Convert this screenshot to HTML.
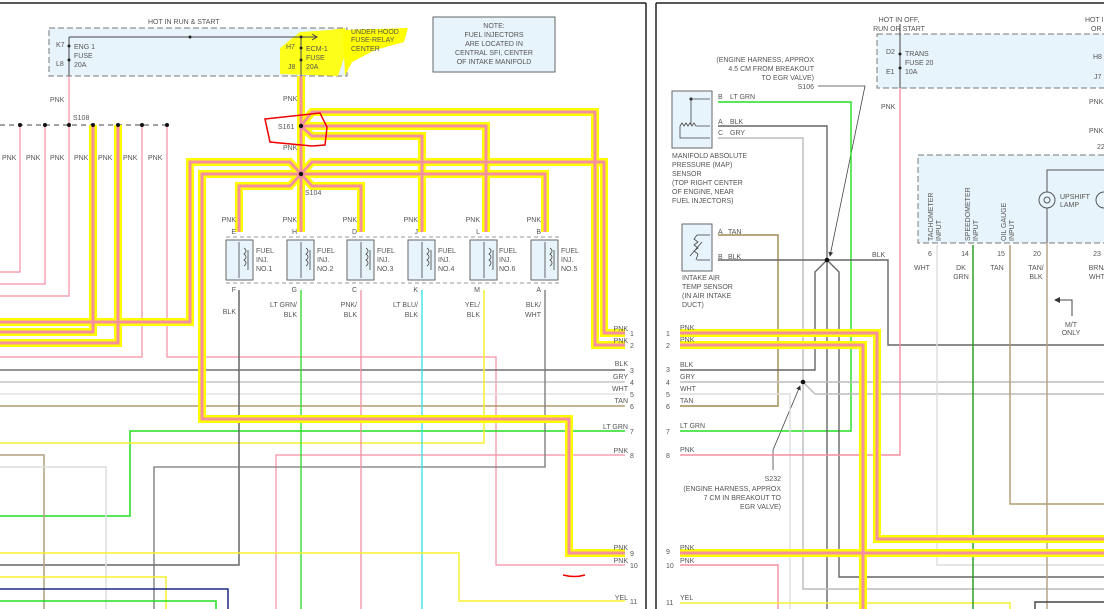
<!DOCTYPE html>
<html><head><meta charset="utf-8"><style>
html,body{margin:0;padding:0;background:#fff;}
svg{display:block;}
text{font-family:"Liberation Sans",sans-serif;font-size:7px;fill:#555;}
</style></head><body>
<svg width="1104" height="609" viewBox="0 0 1104 609" xmlns="http://www.w3.org/2000/svg">
<defs>
<marker id="ar" markerWidth="6" markerHeight="6" refX="5" refY="3" orient="auto"><path d="M0,0 L6,3 L0,6 z" fill="#333"/></marker>
</defs>
<line x1="0" y1="3" x2="646" y2="3" stroke="#222" stroke-width="1.5"/>
<line x1="646" y1="3" x2="646" y2="609" stroke="#222" stroke-width="1.5"/>
<line x1="656" y1="3" x2="1104" y2="3" stroke="#222" stroke-width="1.5"/>
<line x1="656" y1="3" x2="656" y2="609" stroke="#222" stroke-width="1.5"/>

<!-- fuse box -->
<rect x="49" y="28" width="298" height="48" fill="#e8f4fc" stroke="#777" stroke-dasharray="6,3"/>
<path d="M280,48 L290,40 L300,32 L330,30 L345,28 L345,55 L338,76 L280,74 z" fill="#ffff00" opacity="0.9"/>
<path d="M343,30 L408,28 L404,42 L375,50 L352,62 L345,76 z" fill="#ffff00"/>
<text x="148" y="24">HOT IN RUN &amp; START</text>
<line x1="69" y1="37" x2="316" y2="37" stroke="#444"/>
<path d="M312,34 L317,37 L312,40" fill="none" stroke="#444"/>
<circle cx="190" cy="37" r="1.5" fill="#222"/>
<circle cx="301" cy="37" r="1.5" fill="#222"/>
<line x1="69" y1="37" x2="69" y2="76" stroke="#444"/>
<circle cx="69" cy="46" r="1.5" fill="#222"/><circle cx="69" cy="60" r="1.5" fill="#222"/>
<text x="56" y="47">K7</text><text x="56" y="66">L8</text>
<text x="74" y="49">ENG 1</text><text x="74" y="58">FUSE</text><text x="74" y="67">20A</text>
<line x1="301" y1="37" x2="301" y2="76" stroke="#444"/>
<circle cx="301" cy="48" r="1.5" fill="#222"/><circle cx="301" cy="60" r="1.5" fill="#222"/>
<text x="286" y="49">H7</text><text x="288" y="69">J8</text>
<text x="306" y="51">ECM-1</text><text x="306" y="60">FUSE</text><text x="306" y="69">20A</text>
<text x="351" y="34">UNDER HOOD</text><text x="351" y="42">FUSE-RELAY</text><text x="351" y="51">CENTER</text>
<rect x="433" y="17" width="122" height="55" fill="#e8f4fc" stroke="#666"/>
<text x="494" y="28" text-anchor="middle">NOTE:</text>
<text x="494" y="37" text-anchor="middle">FUEL INJECTORS</text>
<text x="494" y="46" text-anchor="middle">ARE LOCATED IN</text>
<text x="494" y="55" text-anchor="middle">CENTRAL SFI, CENTER</text>
<text x="494" y="64" text-anchor="middle">OF INTAKE MANIFOLD</text>

<line x1="69" y1="76" x2="69" y2="125" stroke="#f58ea0" stroke-width="1.2"/>
<text x="50" y="102">PNK</text><text x="73" y="120">S108</text>
<line x1="0" y1="125" x2="167" y2="125" stroke="#444" stroke-dasharray="5,4"/>
<g fill="none" stroke="#f58ea0" stroke-width="1.2">
<polyline points="20,125 20,272 0,272"/>
<polyline points="45,125 45,284 0,284"/>
<polyline points="69,125 69,296 0,296"/>
<polyline points="142,125 142,357 0,357"/>
<polyline points="167,125 167,357 496,357 496,565 625,565"/>
<polyline points="276,609 276,455 625,455"/>
</g>
<g font-size="7"><text x="2" y="160">PNK</text><text x="26" y="160">PNK</text><text x="50" y="160">PNK</text><text x="74" y="160">PNK</text><text x="98" y="160">PNK</text><text x="123" y="160">PNK</text><text x="148" y="160">PNK</text></g>

<g fill="none" stroke-width="1.3">
<polyline points="0,370 625,370" stroke="#555"/>
<polyline points="0,382 625,382" stroke="#bbb"/>
<polyline points="0,394 625,394" stroke="#ddd"/>
<polyline points="0,406 625,406" stroke="#a08850"/>
<polyline points="0,516 130,516 130,431 625,431" stroke="#22dd22" stroke-width="1.5"/>
<polyline points="0,443 484,443 484,290" stroke="#f5f030" stroke-width="1.5"/>
<polyline points="239,290 239,565 0,565" stroke="#666" stroke-width="1.5"/>
<polyline points="545,290 545,467 154,467 154,609" stroke="#777"/>
<polyline points="301,290 301,609" stroke="#22dd22"/>
<polyline points="361,290 361,609" stroke="#f58ea0"/>
<polyline points="422,290 422,609" stroke="#30e0e8"/>
<polyline points="0,455 44,455 44,609" stroke="#b0a080" stroke-width="1.5"/>
<polyline points="0,467 106,467 106,609" stroke="#ddd" stroke-width="1.5"/>
<polyline points="0,553 459,553 459,601 625,601" stroke="#f5f030" stroke-width="1.5"/>
<polyline points="0,577 166,577 166,609" stroke="#f5f030" stroke-width="1.5"/>
<polyline points="0,589 228,589 228,609" stroke="#1a2a80" stroke-width="1.5"/>
<polyline points="0,601 216,601 216,609" stroke="#22dd22" stroke-width="1.5"/>
</g>

<g fill="none" stroke-linejoin="miter">
<g stroke="#ffff00" stroke-width="8">
<polyline points="301,76 301,232"/>
<polyline points="93,125 93,332 0,332"/>
<polyline points="118,125 118,343 0,343"/>
<polyline points="301,126 312,112 595,112 595,345 625,345"/>
<polyline points="301,126 486,126 486,232"/>
<polyline points="301,126 312,136 422,136 422,232"/>
<polyline points="301,174 290,162 190,162 190,322 0,322"/>
<polyline points="301,174 312,162 604,162 604,333 625,333"/>
<polyline points="301,174 202,174 202,419 569,419 569,553 625,553"/>
<polyline points="301,174 545,174 545,232"/>
<polyline points="301,174 290,186 239,186 239,232"/>
<polyline points="301,174 312,186 361,186 361,232"/>
</g>
<g stroke="#f58ea0" stroke-width="3">
<polyline points="301,76 301,232"/>
<polyline points="93,125 93,332 0,332"/>
<polyline points="118,125 118,343 0,343"/>
<polyline points="301,126 312,112 595,112 595,345 625,345"/>
<polyline points="301,126 486,126 486,232"/>
<polyline points="301,126 312,136 422,136 422,232"/>
<polyline points="301,174 290,162 190,162 190,322 0,322"/>
<polyline points="301,174 312,162 604,162 604,333 625,333"/>
<polyline points="301,174 202,174 202,419 569,419 569,553 625,553"/>
<polyline points="301,174 545,174 545,232"/>
<polyline points="301,174 290,186 239,186 239,232"/>
<polyline points="301,174 312,186 361,186 361,232"/>
</g>
</g>
<g fill="#111"><circle cx="20" cy="125" r="2"/><circle cx="45" cy="125" r="2"/><circle cx="69" cy="125" r="2"/><circle cx="93" cy="125" r="2"/><circle cx="118" cy="125" r="2"/><circle cx="142" cy="125" r="2"/><circle cx="167" cy="125" r="2"/>
<circle cx="301" cy="126" r="2.2"/><circle cx="301" cy="174" r="2.2"/></g>
<text x="278" y="129">S161</text><text x="283" y="101">PNK</text><text x="283" y="150">PNK</text><text x="305" y="195">S104</text>
<path d="M265,119 L320,113 L327,127 L325,145 L312,146 L270,142 z" fill="none" stroke="#e00" stroke-width="1.5"/>
<path d="M563,575 Q575,578 585,575" fill="none" stroke="#e00" stroke-width="1.5"/>

<line x1="226" y1="237" x2="560" y2="237" stroke="#999" stroke-dasharray="4,3"/>
<line x1="226" y1="283" x2="560" y2="283" stroke="#999" stroke-dasharray="4,3"/>
<g>
<rect x="226" y="240" width="27" height="40" fill="#e8f4fc" stroke="#666"/>
<rect x="287" y="240" width="27" height="40" fill="#e8f4fc" stroke="#666"/>
<rect x="347" y="240" width="27" height="40" fill="#e8f4fc" stroke="#666"/>
<rect x="408" y="240" width="27" height="40" fill="#e8f4fc" stroke="#666"/>
<rect x="470" y="240" width="27" height="40" fill="#e8f4fc" stroke="#666"/>
<rect x="531" y="240" width="27" height="40" fill="#e8f4fc" stroke="#666"/>
</g>
<g stroke="#444" fill="none" stroke-width="0.8">
<path d="M239,242 V278 M244,248 q4,3 0,6 q4,3 0,6 q4,3 0,6 M248,250 V270"/>
<path d="M301,242 V278 M306,248 q4,3 0,6 q4,3 0,6 q4,3 0,6 M310,250 V270"/>
<path d="M361,242 V278 M366,248 q4,3 0,6 q4,3 0,6 q4,3 0,6 M370,250 V270"/>
<path d="M422,242 V278 M427,248 q4,3 0,6 q4,3 0,6 q4,3 0,6 M431,250 V270"/>
<path d="M484,242 V278 M489,248 q4,3 0,6 q4,3 0,6 q4,3 0,6 M493,250 V270"/>
<path d="M545,242 V278 M550,248 q4,3 0,6 q4,3 0,6 q4,3 0,6 M554,250 V270"/>
</g>
<g>
<text x="256" y="253">FUEL</text><text x="256" y="262">INJ.</text><text x="256" y="271">NO.1</text>
<text x="317" y="253">FUEL</text><text x="317" y="262">INJ.</text><text x="317" y="271">NO.2</text>
<text x="377" y="253">FUEL</text><text x="377" y="262">INJ.</text><text x="377" y="271">NO.3</text>
<text x="438" y="253">FUEL</text><text x="438" y="262">INJ.</text><text x="438" y="271">NO.4</text>
<text x="499" y="253">FUEL</text><text x="499" y="262">INJ.</text><text x="499" y="271">NO.6</text>
<text x="561" y="253">FUEL</text><text x="561" y="262">INJ.</text><text x="561" y="271">NO.5</text>
</g>
<g text-anchor="end">
<text x="236" y="222">PNK</text><text x="297" y="222">PNK</text><text x="357" y="222">PNK</text><text x="418" y="222">PNK</text><text x="480" y="222">PNK</text><text x="541" y="222">PNK</text>
<text x="236" y="234">E</text><text x="297" y="234">H</text><text x="357" y="234">D</text><text x="418" y="234">J</text><text x="480" y="234">L</text><text x="541" y="234">B</text>
<text x="236" y="292">F</text><text x="297" y="292">G</text><text x="357" y="292">C</text><text x="418" y="292">K</text><text x="480" y="292">M</text><text x="541" y="292">A</text>
<text x="236" y="314">BLK</text>
<text x="297" y="307">LT GRN/</text><text x="297" y="317">BLK</text>
<text x="357" y="307">PNK/</text><text x="357" y="317">BLK</text>
<text x="418" y="307">LT BLU/</text><text x="418" y="317">BLK</text>
<text x="480" y="307">YEL/</text><text x="480" y="317">BLK</text>
<text x="541" y="307">BLK/</text><text x="541" y="317">WHT</text>
<text x="628" y="331">PNK</text><text x="628" y="343">PNK</text><text x="628" y="366">BLK</text><text x="628" y="379">GRY</text>
<text x="628" y="391">WHT</text><text x="628" y="403">TAN</text><text x="628" y="429">LT GRN</text><text x="628" y="453">PNK</text>
<text x="628" y="550">PNK</text><text x="628" y="563">PNK</text><text x="628" y="600">YEL</text>
</g>
<g font-size="6.5"><text x="630" y="336">1</text><text x="630" y="348">2</text><text x="630" y="373">3</text><text x="630" y="385">4</text><text x="630" y="397">5</text><text x="630" y="409">6</text><text x="630" y="434">7</text><text x="630" y="458">8</text><text x="630" y="556">9</text><text x="630" y="568">10</text><text x="630" y="604">11</text></g>

<!-- RIGHT PANEL -->
<rect x="877" y="34" width="240" height="54" fill="#e8f4fc" stroke="#777" stroke-dasharray="6,3"/>
<text x="899" y="22" text-anchor="middle">HOT IN OFF,</text><text x="899" y="31" text-anchor="middle">RUN OR START</text>
<text x="1085" y="22">HOT I</text><text x="1091" y="31">OR S</text>
<line x1="900" y1="24" x2="900" y2="88" stroke="#444"/>
<circle cx="900" cy="54" r="1.5" fill="#222"/><circle cx="900" cy="68" r="1.5" fill="#222"/>
<text x="886" y="54">D2</text><text x="886" y="74">E1</text>
<text x="905" y="56">TRANS</text><text x="905" y="65">FUSE 20</text><text x="905" y="74">10A</text>
<text x="1093" y="59">H8</text><text x="1094" y="79">J7</text>
<text x="1089" y="104">PNK</text><text x="1089" y="133">PNK</text><text x="1097" y="149">22</text>
<text x="881" y="109">PNK</text>

<rect x="918" y="155" width="200" height="88" fill="#e8f4fc" stroke="#777" stroke-dasharray="6,3"/>
<g font-size="6.5">
<text transform="translate(933,241) rotate(-90)">TACHOMETER</text><text transform="translate(941,241) rotate(-90)">INPUT</text>
<text transform="translate(970,241) rotate(-90)">SPEEDOMETER</text><text transform="translate(978,241) rotate(-90)">INPUT</text>
<text transform="translate(1006,241) rotate(-90)">OIL GAUGE</text><text transform="translate(1014,241) rotate(-90)">INPUT</text>
</g>
<polyline points="1104,170 1047,170 1047,243" fill="none" stroke="#555"/>
<circle cx="1047" cy="200" r="8" fill="#e8f4fc" stroke="#555"/>
<circle cx="1047" cy="200" r="3" fill="none" stroke="#555"/>
<text x="1060" y="199">UPSHIFT</text><text x="1060" y="207">LAMP</text>
<circle cx="1104" cy="200" r="8" fill="#e8f4fc" stroke="#555"/>
<g text-anchor="middle">
<text x="930" y="256">6</text><text x="965" y="256">14</text><text x="1001" y="256">15</text><text x="1037" y="256">20</text><text x="1097" y="256">23</text>
<text x="922" y="270">WHT</text><text x="961" y="270">DK</text><text x="961" y="279">GRN</text><text x="997" y="270">TAN</text>
<text x="1036" y="270">TAN/</text><text x="1036" y="279">BLK</text><text x="1097" y="270">BRN/</text><text x="1097" y="279">WHT</text>
<text x="1071" y="327">M/T</text><text x="1071" y="335">ONLY</text>
</g>
<polyline points="1072,316 1072,300 1055,300" fill="none" stroke="#444" marker-end="url(#ar)"/>

<rect x="672" y="91" width="40" height="57" fill="#e8f4fc" stroke="#666"/>
<g stroke="#444" fill="none" stroke-width="0.8">
<polyline points="691,112 691,99 710,99"/>
<circle cx="691" cy="99" r="1.2" fill="#222"/>
<path d="M680,126 l2,-3 l2,3 l2,-3 l2,3 l2,-3 l2,3 l2,-3 l2,3 H710 M691,112 V124"/>
<polyline points="680,126 680,138 710,138"/>
</g>
<text x="718" y="99">B</text><text x="730" y="99">LT GRN</text>
<text x="718" y="124">A</text><text x="730" y="124">BLK</text>
<text x="718" y="135">C</text><text x="730" y="135">GRY</text>
<g font-size="6.8">
<text x="672" y="158">MANIFOLD ABSOLUTE</text><text x="672" y="167">PRESSURE (MAP)</text><text x="672" y="176">SENSOR</text>
<text x="672" y="185">(TOP RIGHT CENTER</text><text x="672" y="194">OF ENGINE, NEAR</text><text x="672" y="203">FUEL INJECTORS)</text>
</g>
<rect x="682" y="224" width="30" height="47" fill="#e8f4fc" stroke="#666"/>
<g stroke="#444" fill="none" stroke-width="0.8">
<polyline points="697,235 710,235"/><polyline points="697,260 710,260"/>
<path d="M697,235 l-3,4 l4,3 l-4,3 l4,3 l-4,3 l4,3 l-2,6 M690,256 l12,-14"/>
</g>
<text x="718" y="234">A</text><text x="728" y="234">TAN</text>
<text x="718" y="259">B</text><text x="728" y="259">BLK</text>
<g font-size="6.8">
<text x="682" y="280">INTAKE AIR</text><text x="682" y="289">TEMP SENSOR</text><text x="682" y="298">(IN AIR INTAKE</text><text x="682" y="307">DUCT)</text>
</g>
<g text-anchor="end" font-size="6.8">
<text x="814" y="62">(ENGINE HARNESS, APPROX</text><text x="814" y="71">4.5 CM FROM BREAKOUT</text><text x="814" y="80">TO EGR VALVE)</text><text x="814" y="89">S106</text>
<text x="781" y="481">S232</text><text x="781" y="491">(ENGINE HARNESS, APPROX</text><text x="781" y="500">7 CM IN BREAKOUT TO</text><text x="781" y="509">EGR VALVE)</text>
</g>
<polyline points="818,86 865,86 830,256" fill="none" stroke="#444" stroke-width="0.8" marker-end="url(#ar)"/>
<polyline points="773,470 773,450 800,386" fill="none" stroke="#444" stroke-width="0.8" marker-end="url(#ar)"/>

<g fill="none" stroke-width="1.4">
<polyline points="718,102 851,102 851,431 680,431" stroke="#22dd22"/>
<polyline points="718,126 827,126 827,609" stroke="#666"/>
<polyline points="718,138 803,138 803,589 1104,589" stroke="#bbb"/>
<polyline points="718,235 778,235 778,406 680,406" stroke="#a08850"/>
<polyline points="718,260 888,260 888,345 1104,345" stroke="#666"/>
<polyline points="827,260 815,272 815,370 680,370" stroke="#666"/>
<polyline points="827,260 839,272 839,577 1104,577" stroke="#666"/>
<polyline points="680,382 1104,382" stroke="#bbb"/>
<polyline points="680,394 790,394 790,609" stroke="#ddd"/>
<polyline points="803,382 815,394 1104,394" stroke="#bbb"/>
<polyline points="900,88 900,455 680,455" stroke="#f58ea0"/>
<polyline points="680,565 778,565 778,609" stroke="#f58ea0"/>
<polyline points="680,603 1010,603 1010,609" stroke="#f5f030"/>
<polyline points="937,245 937,565 1104,565" stroke="#ddd"/>
<polyline points="973,245 973,609" stroke="#1a9a1a"/>
<polyline points="1010,245 1010,504 1104,504" stroke="#b09870"/>
<polyline points="1047,243 1047,609" stroke="#b0a080"/>
<polyline points="1035,609 1035,602 1104,602" stroke="#444"/>
</g>
<g fill="none">
<g stroke="#ffff00" stroke-width="8">
<polyline points="680,333 877,333 877,539 1104,539"/>
<polyline points="680,345 863,345 863,609"/>
<polyline points="680,553 1104,553"/>
</g>
<g stroke="#f58ea0" stroke-width="3">
<polyline points="680,333 877,333 877,539 1104,539"/>
<polyline points="680,345 863,345 863,609"/>
<polyline points="680,553 1104,553"/>
</g>
</g>
<circle cx="827" cy="260" r="2.3" fill="#111"/>
<circle cx="803" cy="382" r="2.3" fill="#111"/>
<text x="872" y="257">BLK</text>
<g>
<text x="680" y="330">PNK</text><text x="680" y="342">PNK</text><text x="680" y="367">BLK</text><text x="680" y="379">GRY</text>
<text x="680" y="391">WHT</text><text x="680" y="403">TAN</text><text x="680" y="428">LT GRN</text><text x="680" y="452">PNK</text>
<text x="680" y="550">PNK</text><text x="680" y="563">PNK</text><text x="680" y="600">YEL</text>
</g>
<g font-size="6.5">
<text x="666" y="336">1</text><text x="666" y="348">2</text><text x="666" y="372">3</text><text x="666" y="385">4</text><text x="666" y="397">5</text><text x="666" y="409">6</text><text x="666" y="434">7</text><text x="666" y="458">8</text><text x="666" y="554">9</text><text x="666" y="568">10</text><text x="666" y="605">11</text>
</g>
</svg>
</body></html>
